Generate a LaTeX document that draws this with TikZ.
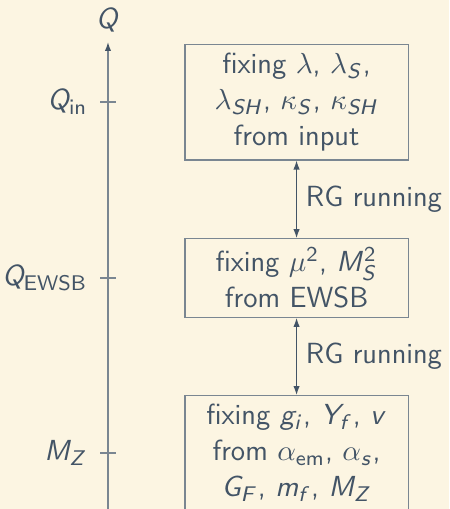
\documentclass[tikz,border=0pt]{standalone}
\usepackage{xcolor}
\usetikzlibrary{arrows.meta}
\definecolor{bgcol}{RGB}{252,245,226}
\definecolor{fgcol}{RGB}{67,84,102}
\definecolor{linecol}{RGB}{122,134,145}
% sans serif math, as on the slides
\DeclareSymbolFont{sfitalic}{OT1}{cmss}{m}{sl}
\SetSymbolFont{operators}{normal}{OT1}{cmss}{m}{n}
\DeclareMathSymbol{Q}{\mathalpha}{sfitalic}{`Q}
\DeclareMathSymbol{M}{\mathalpha}{sfitalic}{`M}
\DeclareMathSymbol{Z}{\mathalpha}{sfitalic}{`Z}
\DeclareMathSymbol{S}{\mathalpha}{sfitalic}{`S}
\DeclareMathSymbol{H}{\mathalpha}{sfitalic}{`H}
\DeclareMathSymbol{Y}{\mathalpha}{sfitalic}{`Y}
\DeclareMathSymbol{G}{\mathalpha}{sfitalic}{`G}
\DeclareMathSymbol{F}{\mathalpha}{sfitalic}{`F}
\DeclareMathSymbol{g}{\mathalpha}{sfitalic}{`g}
\DeclareMathSymbol{i}{\mathalpha}{sfitalic}{`i}
\DeclareMathSymbol{f}{\mathalpha}{sfitalic}{`f}
\DeclareMathSymbol{v}{\mathalpha}{sfitalic}{`v}
\DeclareMathSymbol{m}{\mathalpha}{sfitalic}{`m}
\DeclareMathSymbol{s}{\mathalpha}{sfitalic}{`s}
\tikzset{>={Latex[length=3.4pt, width=2.4pt]}}
\tikzset{stagebox/.style={draw=linecol, minimum width=2.96cm, align=center}}
\tikzset{axisline/.style={draw=linecol, line width=0.5pt}}

\begin{document}
\begin{tikzpicture}[color=fgcol, font=\sffamily\fontsize{11}{13.6}\selectfont]
    \newcommand\posA{1.433}
    \newcommand\posB{3.935}
    \newcommand\posIn{-1.354}
    \newcommand\posEW{-3.689}
    \newcommand\posZ{-6.011}

    \useasboundingbox (0, 0) rectangle (5.958, -6.754);
    \fill[bgcol] (0, 0) rectangle (5.958, -6.754);
    \clip (0, 0) rectangle (5.958, -6.754);

    % scale axis
    \node[] (Q) at (\posA, -0.265){$Q$};
    \coordinate (axisTop) at (\posA, -0.557);
    \coordinate (axisBot) at (\posA, -6.9);
    \draw[axisline, -{Latex[length=3.4pt, width=2.4pt, color=fgcol]}] (axisBot) -- (axisTop);
    \draw[axisline] (\posA - 0.1, \posIn) -- (\posA + 0.1, \posIn);
    \draw[axisline] (\posA - 0.1, \posEW) -- (\posA + 0.1, \posEW);
    \draw[axisline] (\posA - 0.1, \posZ) -- (\posA + 0.1, \posZ);

    \node[anchor=east] (labIn) at (\posA - 0.15, \posIn){$Q_{\mathsf{in}}$};
    \node[anchor=east] (labEW) at (\posA - 0.15, \posEW){$Q_{\mathsf{EWSB}}$};
    \node[anchor=east] (labZ) at (\posA - 0.15, \posZ){$M_Z$};

    % boxes
    \node[stagebox] (boxIn) at (\posB, \posIn){fixing $\lambda$, $\lambda_S$,\\ $\lambda_{SH}$, $\kappa_S$, $\kappa_{SH}$\\ from input};
    \node[stagebox] (boxEW) at (\posB, \posEW){fixing $\mu^2$, $M_S^2$\\ from EWSB};
    \node[stagebox] (boxZ) at (\posB, \posZ){fixing $g_i$, $Y_f$, $v$\\ from $\alpha_{\mathsf{em}}$, $\alpha_s$,\\ $G_F$, $m_f$, $M_Z$};

    \draw[<->] (boxIn) -- (boxEW) node[midway, right]{RG running};
    \draw[<->] (boxEW) -- (boxZ) node[midway, right]{RG running};
\end{tikzpicture}
\end{document}
